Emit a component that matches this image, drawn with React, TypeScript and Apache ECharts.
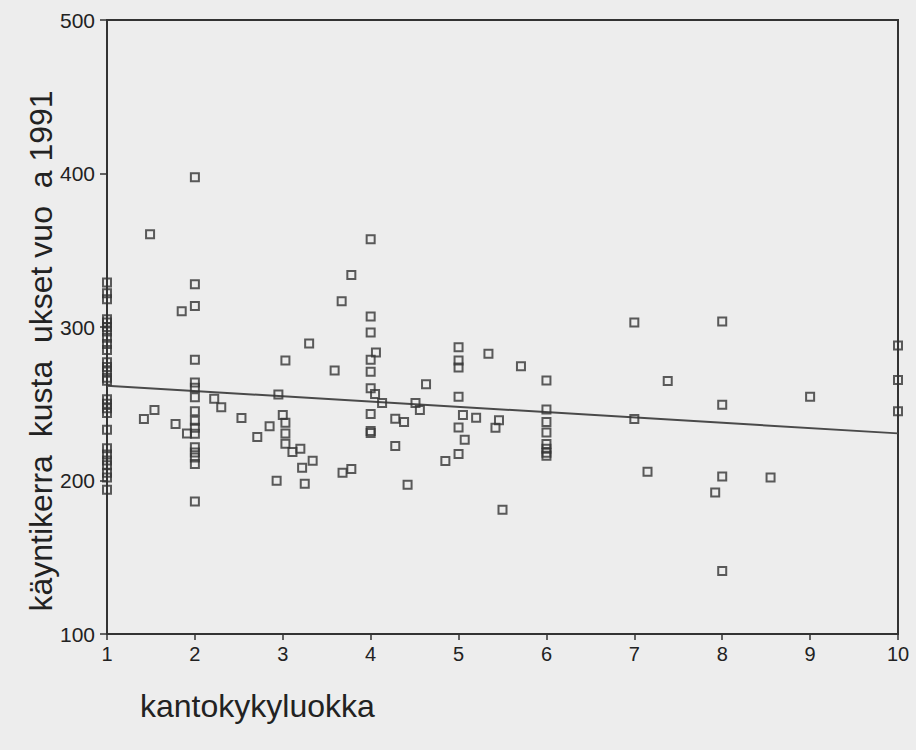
import React, { useEffect, useRef } from "react";
import * as echarts from "echarts";

// kantokykyluokka (x) and käyntikerrat kustannukset 1991 (y)
const kantokyky = [
  1, 1, 1, 1, 1, 1, 1, 1, 1, 1, 1, 1, 1, 1, 1, 1, 1, 1, 1, 1, 1, 1, 1, 1, 1, 1, 1,
  2, 2, 2, 2, 2, 2, 2, 2, 2, 2, 2, 2, 2, 2, 2, 2,
  1.49, 1.85, 2.22, 2.3, 1.54, 1.42, 2.53, 1.78, 1.91,
  4, 3.78, 3.67, 4, 4, 3.3, 4.06, 4, 3.03, 3.59, 4, 4.63, 2.95, 4, 4.05, 4.13, 4.51, 4.56,
  3, 3.03, 4, 4.28, 4.38, 2.85, 2.71, 3.03, 4, 4, 3.03, 3.11, 3.2, 4.28, 3.34, 3.22, 3.78,
  3.68, 2.93, 3.25, 4.42,
  5, 5.34, 5, 5, 5.71, 6, 5, 6, 5.05, 5.2, 5.46, 5.42, 5, 6, 6, 5.07, 6, 6, 6, 6, 5, 4.85, 5.5,
  7, 8, 10, 7.38, 10, 9, 8, 10, 7, 7.15, 8, 8.55, 7.92, 8,
];
const kustannukset = [
  329, 322, 318, 305, 303, 300, 297, 293, 289, 285, 277, 274, 271, 267, 265, 253, 250, 247, 244, 233, 221, 217, 213, 210, 205, 202, 194,
  397.6, 327.9, 313.6, 278.6, 263.8, 260.5, 254.2, 245.1, 239, 234.4, 230.5, 221.6, 218.3, 215, 210.7, 186.3,
  360.4, 310.3, 253.3, 247.7, 246, 240.1, 240.7, 236.8, 230.7,
  357.1, 333.8, 316.8, 306.8, 296.4, 289.2, 283.4, 278.6, 278.1, 271.6, 270.8, 262.7, 256, 260.1, 256.4, 250.5, 250.5, 246,
  242.7, 237.7, 243.4, 240.3, 238.1, 235.3, 228.3, 230.7, 232.3, 231, 224, 218.6, 220.7, 222.5, 212.9, 208.3, 207.5,
  205.1, 199.8, 197.9, 197.2,
  286.8, 282.5, 278.1, 273.6, 274.4, 265.1, 254.5, 246.2, 242.7, 240.9, 239.2, 234.4, 234.6, 238.1, 231.2, 226.6, 223.8, 220.7, 218.1, 216.1, 217.3, 212.7, 180.9,
  302.9, 303.6, 287.9, 264.9, 265.5, 254.6, 249.4, 245.1, 240.1, 205.7, 202.6, 202, 192.2, 141.1,
];

// fitted regression line end points
const regressionX = [1, 10];
const regressionY = [261.8, 230.7];

const xTicks = [1, 2, 3, 4, 5, 6, 7, 8, 9, 10];
const yTicks = [100, 200, 300, 400, 500];

const xTitle = "kantokykyluokka";
const yTitle = "käyntikerra\u00a0\u00a0kusta\u00a0\u00a0ukset vuo\u00a0\u00a0a 1991";

const FONT = '"Liberation Sans", Arial, Helvetica, sans-serif';
const INK = "#333333";

export default function App() {
  const ref = useRef<HTMLDivElement>(null);

  useEffect(() => {
    if (!ref.current) return;
    const chart = echarts.init(ref.current, null, { renderer: "svg" });
    const points = kantokyky.map((x, i) => [x, kustannukset[i]]);
    const line = regressionX.map((x, i) => [x, regressionY[i]]);
    chart.setOption({
      animation: false,
      backgroundColor: "#ededed",
      grid: {
        left: 107,
        right: 18,
        top: 20,
        bottom: 116,
        show: true,
        borderColor: INK,
        borderWidth: 2,
        backgroundColor: "transparent",
      },
      xAxis: {
        type: "value",
        min: xTicks[0],
        max: xTicks[xTicks.length - 1],
        interval: 1,
        axisLine: { show: true, lineStyle: { color: INK, width: 2 } },
        axisTick: { show: true, length: 6, lineStyle: { color: INK, width: 1.5 } },
        splitLine: { show: false },
        axisLabel: {
          color: "#222",
          fontSize: 20,
          fontFamily: FONT,
          margin: 10,
        },
      },
      yAxis: {
        type: "value",
        min: yTicks[0],
        max: yTicks[yTicks.length - 1],
        interval: 100,
        axisLine: { show: true, lineStyle: { color: INK, width: 2 } },
        axisTick: { show: true, length: 7, lineStyle: { color: INK, width: 1.5 } },
        splitLine: { show: false },
        axisLabel: {
          color: "#222",
          fontSize: 21,
          fontFamily: FONT,
          margin: 12,
        },
      },
      graphic: [
        {
          type: "text",
          x: 41,
          y: 351,
          rotation: Math.PI / 2,
          style: {
            text: yTitle,
            fill: "#222",
            font: `32px ${FONT}`,
            textAlign: "center",
            textVerticalAlign: "middle",
          },
        },
        {
          type: "text",
          x: 140,
          y: 706,
          style: {
            text: xTitle,
            fill: "#222",
            font: `32px ${FONT}`,
            textAlign: "left",
            textVerticalAlign: "middle",
          },
        },
      ],
      series: [
        {
          type: "line",
          data: line,
          symbol: "none",
          lineStyle: { color: "#4a4a4a", width: 2 },
          z: 2,
        },
        {
          type: "scatter",
          data: points,
          symbol: "rect",
          symbolSize: 8,
          clip: false,
          itemStyle: { color: "rgba(0,0,0,0)", borderColor: "#333", borderWidth: 2 },
          z: 3,
        },
      ],
    });
    return () => chart.dispose();
  }, []);

  return (
    <div
      ref={ref}
      style={{ position: "absolute", left: 0, top: 0, width: 916, height: 750 }}
    />
  );
}
